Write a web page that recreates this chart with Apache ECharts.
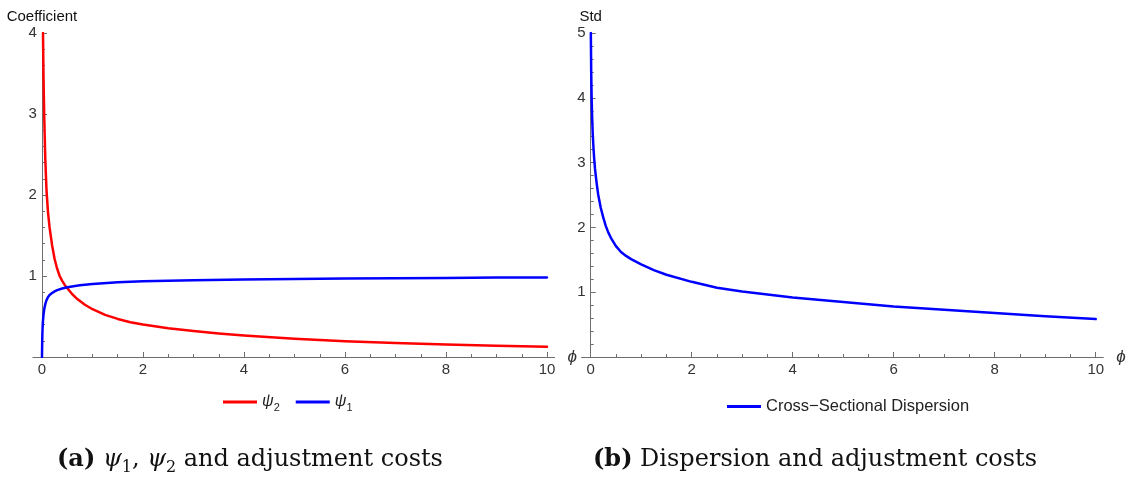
<!DOCTYPE html>
<html>
<head>
<meta charset="utf-8">
<script src="https://cdn.jsdelivr.net/npm/echarts@6/dist/echarts.min.js"></script>
<style>html,body{margin:0;padding:0;background:#fff}#c{width:1135px;height:481px}</style>
</head>
<body>
<div id="c"></div>
<script>
// ---- data ----
const psi2X = [0.02,0.03,0.045,0.065,0.09,0.12,0.15,0.2,0.25,0.3,0.35,0.4,0.45,0.5,0.6,0.7,0.85,1.0,1.25,1.5,1.75,2.0,2.5,3.0,3.5,4.0,5.0,6.0,7.0,8.0,9.0,10.0];
const psi2  = [4.0,3.45,2.95,2.45,2.05,1.78,1.6,1.38,1.21,1.09,1.0,0.94,0.89,0.85,0.775,0.715,0.645,0.59,0.52,0.47,0.43,0.40,0.355,0.32,0.29,0.265,0.225,0.195,0.172,0.155,0.14,0.127];
const psi1X = [0,0.005,0.01,0.015,0.02,0.03,0.04,0.05,0.065,0.08,0.1,0.12,0.15,0.2,0.25,0.3,0.4,0.5,0.75,1.0,1.5,2.0,3.0,4.0,5.0,6.0,7.0,8.0,9.0,10.0];
const psi1  = [0,0.22,0.33,0.4,0.45,0.52,0.57,0.61,0.65,0.685,0.715,0.74,0.765,0.79,0.81,0.825,0.846,0.862,0.885,0.9,0.922,0.935,0.948,0.957,0.963,0.968,0.972,0.976,0.98,0.983];
const stdX  = [0.003,0.01,0.02,0.03,0.04,0.055,0.07,0.085,0.1,0.125,0.15,0.2,0.25,0.3,0.35,0.4,0.5,0.6,0.7,0.8,1.0,1.25,1.5,2.0,2.5,3.0,4.0,5.0,6.0,7.0,8.0,9.0,10.0];
const std   = [5.0,4.4,3.95,3.67,3.45,3.23,3.05,2.91,2.8,2.64,2.5,2.3,2.15,2.02,1.92,1.84,1.71,1.62,1.56,1.51,1.43,1.34,1.27,1.16,1.07,1.01,0.92,0.85,0.78,0.73,0.68,0.63,0.585];
const xMajor = [0,2,4,6,8,10];
const xMinor = [0.5,1,1.5,2.5,3,3.5,4.5,5,5.5,6.5,7,7.5,8.5,9,9.5];
const seriesNames = ['ψ2','ψ1'];
const rightName = 'Cross\u2212Sectional Dispersion';
const captionA = ['(a)','ψ','1',', ','ψ','2',' and adjustment costs'];
const captionB = ['(b)',' Dispersion and adjustment costs'];

const zip = (xs, ys) => xs.map((x, i) => [x, ys[i]]);

const AX = '#6e6e6e', LB = '#333', F = 'Liberation Sans';
const SERIF = 'DejaVu Serif';

function mainX(gi) {
  return {
    type: 'value', gridIndex: gi, min: -0.18, max: 10.15, position: 'bottom',
    name: 'ϕ', nameLocation: 'end', nameGap: 13,
    nameTextStyle: {fontFamily: F, fontSize: 17, fontStyle: 'italic', color: LB, verticalAlign: 'middle'},
    axisLine: {show: true, onZero: false, lineStyle: {color: AX, width: 1}},
    axisTick: {show: true, inside: true, length: 5, customValues: xMajor, lineStyle: {color: AX}},
    axisLabel: {show: true, customValues: xMajor, margin: 5, color: LB, fontFamily: F, fontSize: 15},
    splitLine: {show: false}
  };
}
function minorX(gi) {
  return {
    type: 'value', gridIndex: gi, min: -0.18, max: 10.15, position: 'bottom',
    axisLine: {show: false},
    axisTick: {show: true, inside: true, length: 3, customValues: xMinor, lineStyle: {color: AX}},
    axisLabel: {show: false},
    splitLine: {show: false}
  };
}
function yAx(gi, max, xIdx, name) {
  return {
    type: 'value', gridIndex: gi, min: 0, max: max, interval: 1,
    name: name, nameLocation: 'end', nameGap: 9,
    nameTextStyle: {fontFamily: F, fontSize: 15, color: '#111', align: 'center'},
    axisLine: {show: true, onZero: true, onZeroAxisIndex: xIdx, lineStyle: {color: AX, width: 1}},
    axisTick: {show: true, inside: true, length: 5, lineStyle: {color: AX}},
    minorTick: {show: true, splitNumber: 5, length: 3, lineStyle: {color: AX}},
    axisLabel: {show: true, margin: -4, color: LB, fontFamily: F, fontSize: 15,
      formatter: v => v === 0 ? '' : String(v)},
    splitLine: {show: false}
  };
}

const legRich = {
  p: {fontFamily: F, fontStyle: 'italic', fontSize: 16, color: '#222', lineHeight: 22},
  s: {fontFamily: F, fontSize: 11, color: '#222', lineHeight: 14, verticalAlign: 'bottom'}
};
const capRich = {
  b: {fontFamily: SERIF, fontWeight: 'bold', fontSize: 24, color: '#111', lineHeight: 32},
  r: {fontFamily: SERIF, fontWeight: 'normal', fontSize: 24, color: '#111', lineHeight: 32},
  i: {fontFamily: SERIF, fontWeight: 'normal', fontStyle: 'italic', fontSize: 24, color: '#111', lineHeight: 32},
  s: {fontFamily: SERIF, fontWeight: 'normal', fontSize: 16, color: '#111', lineHeight: 20, verticalAlign: 'bottom'}
};

const lineSeries = (name, xi, yi, data, color) => ({
  name, type: 'line', xAxisIndex: xi, yAxisIndex: yi, showSymbol: false, symbol: 'none',
  smooth: false, data, lineStyle: {color, width: 2.5, join: 'round', cap: 'round'}, itemStyle: {color}
});

const chart = echarts.init(document.getElementById('c'), null, {renderer: 'canvas'});
chart.setOption({
  animation: false,
  backgroundColor: '#fff',
  title: [
    {left: 57, top: 444, padding: 0,
     text: `{b|${captionA[0]}}{r| }{i|${captionA[1]}}{s|${captionA[2]}}{r|${captionA[3]}}{i|${captionA[4]}}{s|${captionA[5]}}{r|${captionA[6]}}`,
     textStyle: {fontWeight: 'normal', rich: capRich}},
    {left: 593, top: 444, padding: 0,
     text: `{b|${captionB[0]}}{r|${captionB[1]}}`,
     textStyle: {fontWeight: 'normal', rich: capRich}}
  ],
  grid: [
    {left: 32.9, top: 33, width: 521.7, height: 324},
    {left: 581.6, top: 33, width: 521.7, height: 324}
  ],
  xAxis: [mainX(0), minorX(0), mainX(1), minorX(1)],
  yAxis: [yAx(0, 4, 0, 'Coefficient'), yAx(1, 5, 2, 'Std')],
  legend: [
    {left: 223, top: 394, padding: 0, icon: 'rect', itemWidth: 34, itemHeight: 3, itemGap: 16,
     data: seriesNames,
     formatter: n => `{p|${n.slice(0,1)}}{s|${n.slice(1)}}`,
     textStyle: {rich: legRich}},
    {left: 727, top: 398, padding: 0, icon: 'rect', itemWidth: 34, itemHeight: 3,
     data: [rightName],
     textStyle: {fontFamily: F, fontSize: 16.5, color: '#222'}}
  ],
  series: [
    lineSeries(seriesNames[0], 0, 0, zip(psi2X, psi2), '#ff0000'),
    lineSeries(seriesNames[1], 0, 0, zip(psi1X, psi1), '#0000ff'),
    lineSeries(rightName, 2, 1, zip(stdX, std), '#0000ff')
  ]
});
</script>
</body>
</html>
